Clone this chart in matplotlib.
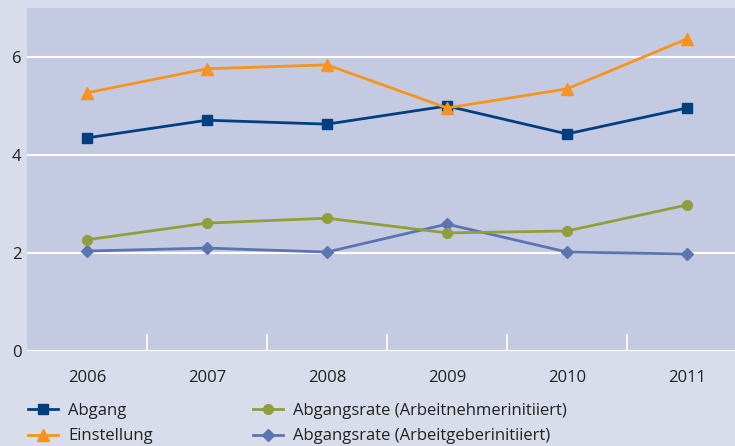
import matplotlib.pyplot as plt
import numpy as np

plt.rcParams['font.family'] = ['Open Sans', 'DejaVu Sans']

years = ["2006", "2007", "2008", "2009", "2010", "2011"]
abgang = [4.35, 4.71, 4.63, 5.00, 4.43, 4.96]
einstellung = [5.27, 5.76, 5.84, 4.96, 5.35, 6.37]
an_initiiert = [2.27, 2.61, 2.71, 2.41, 2.45, 2.98]
ag_initiiert = [2.04, 2.10, 2.02, 2.59, 2.02, 1.98]

bg = "#d9dcea"
plot_bg = "#c5cae3"

fig = plt.figure(figsize=(7.35, 4.46), dpi=100, facecolor=bg)
ax = fig.add_axes([27/735, 95/446, 720/735, 343/446])
ax.set_facecolor(plot_bg)

x = np.arange(len(years))
l1, = ax.plot(x, abgang, color="#003f7f", marker="s", markersize=7, lw=2, label="Abgang", zorder=3)
l2, = ax.plot(x, einstellung, color="#f7941d", marker="^", markersize=8, lw=2, label="Einstellung", zorder=3)
l4, = ax.plot(x, ag_initiiert, color="#5b75b1", marker="D", markersize=6.5, lw=2,
              label="Abgangsrate (Arbeitgeberinitiiert)", zorder=3)
l3, = ax.plot(x, an_initiiert, color="#8fa03a", marker="o", markersize=7, lw=2,
              label="Abgangsrate (Arbeitnehmerinitiiert)", zorder=4)

ax.set_xlim(-0.5, 5.5)
ax.set_ylim(0, 7)
ax.set_yticks([0, 2, 4, 6])
ax.yaxis.grid(True, color="white", lw=1.5)
ax.set_axisbelow(True)
for s in ax.spines.values():
    s.set_visible(False)

# category separators
for b in np.arange(0.5, 5.5, 1):
    ax.plot([b, b], [0, 0.33], color="white", lw=1.3, zorder=2)

ax.set_xticks(x)
ax.set_xticklabels(years)
ax.tick_params(axis="both", length=0, labelsize=12, colors="#222222")
ax.tick_params(axis="x", pad=14)
ax.tick_params(axis="y", pad=4)

fig.legend([l1, l2, l3, l4],
           ["Abgang", "Einstellung", "Abgangsrate (Arbeitnehmerinitiiert)", "Abgangsrate (Arbeitgeberinitiiert)"],
           ncol=2, loc="lower left", bbox_to_anchor=(0.018, -0.03), frameon=False,
           fontsize=12, handlelength=1.8, handletextpad=0.6, columnspacing=6.0,
           labelspacing=0.55, labelcolor="#222222")

fig.savefig("out.png", dpi=100, facecolor=bg)
